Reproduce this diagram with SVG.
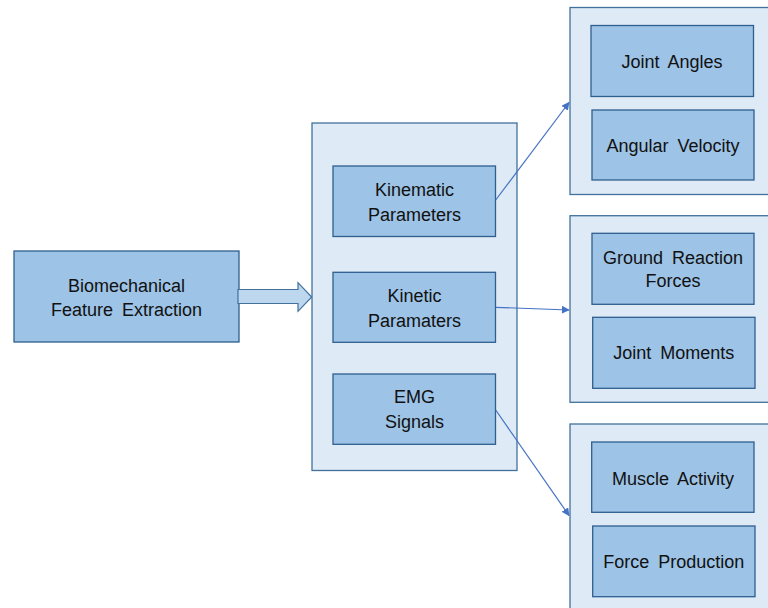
<svg xmlns="http://www.w3.org/2000/svg" width="768" height="608" viewBox="0 0 768 608">
<defs>
<style>
.outer{fill:#DEEAF6;stroke:#41719C;stroke-width:1.3}
.box{fill:#9DC3E6;stroke:#2F5F8F;stroke-width:1.3}
.t{font-family:"Liberation Sans",Arial,sans-serif;font-size:18px;fill:#111;text-anchor:middle;word-spacing:4px}
.conn{stroke:#4472C4;stroke-width:1.2;fill:none;marker-end:url(#ah)}
</style>
<marker id="ah" viewBox="0 0 10 10" refX="9" refY="5" markerWidth="8" markerHeight="8" orient="auto" markerUnits="userSpaceOnUse">
<path d="M0,0 L10,5 L0,10 z" fill="#4472C4"/>
</marker>
</defs>
<rect width="768" height="608" fill="#fff"/>
<g id="biomech">
<rect class="box" x="14" y="251" width="225" height="91"/>
<text class="t" x="126.5" y="291.5">Biomechanical</text>
<text class="t" x="126.5" y="315.5">Feature Extraction</text>
</g>
<g id="block-arrow">
<path d="M238,289.5 H298 V282.7 L311.7,297 L298,311.3 V303.5 H238 Z" fill="#BDD7EE" stroke="#41719C" stroke-width="1.2"/>
</g>
<g id="params">
<rect class="outer" x="312" y="123" width="205" height="347.5"/>
</g>
<g id="kinematic">
<rect class="box" x="333" y="166" width="162.5" height="70.5"/>
<text class="t" x="414.5" y="195.5">Kinematic</text>
<text class="t" x="414.5" y="220.5">Parameters</text>
</g>
<g id="kinetic">
<rect class="box" x="333" y="272.3" width="162.5" height="70"/>
<text class="t" x="414.5" y="301.5">Kinetic</text>
<text class="t" x="414.5" y="326.5">Paramaters</text>
</g>
<g id="emg">
<rect class="box" x="333" y="374" width="162.5" height="70.3"/>
<text class="t" x="414.5" y="403">EMG</text>
<text class="t" x="414.5" y="428">Signals</text>
</g>
<g id="kinematic-group">
<rect class="outer" x="570" y="7.5" width="210" height="187"/>
</g>
<g id="joint-angles">
<rect class="box" x="591" y="25.5" width="162.5" height="71"/>
<text class="t" x="672" y="68">Joint Angles</text>
</g>
<g id="angular-velocity">
<rect class="box" x="592" y="110" width="162" height="70"/>
<text class="t" x="673" y="152">Angular Velocity</text>
</g>
<g id="kinetic-group">
<rect class="outer" x="570" y="215.7" width="210" height="186.6"/>
</g>
<g id="grf">
<rect class="box" x="592" y="233.3" width="162" height="71"/>
<text class="t" x="673" y="263.5">Ground Reaction</text>
<text class="t" x="673" y="287">Forces</text>
</g>
<g id="joint-moments">
<rect class="box" x="592.7" y="317.3" width="162.3" height="71"/>
<text class="t" x="673.8" y="359">Joint Moments</text>
</g>
<g id="emg-group">
<rect class="outer" x="570" y="424" width="210" height="200"/>
</g>
<g id="muscle-activity">
<rect class="box" x="591.7" y="442" width="162.3" height="70.3"/>
<text class="t" x="673" y="484.5">Muscle Activity</text>
</g>
<g id="force-production">
<rect class="box" x="592.7" y="526" width="162.3" height="70.7"/>
<text class="t" x="673.8" y="568">Force Production</text>
</g>
<g id="connectors">
<line class="conn" x1="495.7" y1="200" x2="569" y2="102.5"/>
<line class="conn" x1="495.7" y1="307.3" x2="569" y2="310"/>
<line class="conn" x1="495.7" y1="410" x2="569" y2="515.5"/>
</g>
</svg>
